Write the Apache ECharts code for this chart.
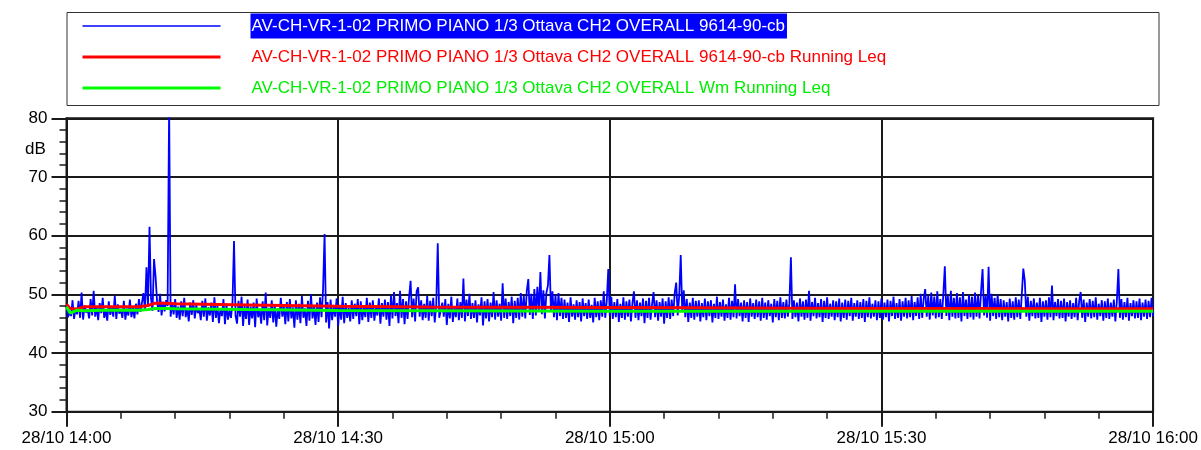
<!DOCTYPE html>
<html><head><meta charset="utf-8">
<script src="https://cdn.jsdelivr.net/npm/echarts@6/dist/echarts.min.js"></script>
<style>html,body{margin:0;padding:0;background:#fff}#c{width:1201px;height:450px}</style>
</head><body><div id="c"></div>
<script>
// Blue: level every 10 s from 14:00 (index i -> minute i/6), one row = 5 minutes
const levelValues = [
48.2,46.1,47.0,46.3,49.0,45.8,47.6,46.6,48.9,46.0,50.3,45.7,48.1,46.9,47.4,45.9,49.2,46.4,50.6,46.2,47.8,45.6,48.5,46.8,49.4,46.0,47.3,45.5,48.8,46.5,
47.9,46.2,49.8,45.8,48.3,46.7,47.5,46.0,48.9,45.7,47.6,46.4,49.1,46.1,47.8,45.9,48.4,46.6,49.2,47.0,48.6,50.2,47.4,54.6,48.1,61.5,49.3,47.2,56.0,53.1,
48.8,47.0,50.1,46.4,48.7,47.1,49.0,48.0,82.0,46.2,48.5,46.6,49.2,46.0,47.9,45.7,48.8,46.3,49.4,46.1,47.7,45.4,48.6,46.5,49.0,45.9,48.2,46.8,47.5,45.6,
48.9,46.2,49.3,45.5,47.8,46.4,48.6,45.3,49.5,46.0,48.1,45.1,47.6,46.3,49.2,44.9,48.4,45.7,47.3,46.0,48.7,59.1,46.4,45.0,48.9,46.2,49.6,44.6,48.0,45.8,
49.1,44.8,47.9,45.9,48.6,44.4,49.3,46.1,47.5,45.0,48.8,45.6,50.3,44.7,47.7,46.0,49.0,45.2,48.3,44.5,47.6,45.8,49.4,46.2,48.0,44.9,48.7,45.4,49.2,45.9,
47.8,44.3,49.0,45.7,48.4,45.1,49.7,46.0,47.6,44.6,48.9,45.5,50.0,45.9,47.9,44.8,48.6,45.3,49.5,46.1,50.8,60.3,45.2,48.7,44.2,49.1,45.6,48.0,46.2,49.3,
44.6,48.2,45.7,49.6,45.1,48.5,46.0,47.7,45.4,49.0,45.8,48.4,46.3,49.2,44.9,48.8,45.6,47.9,46.1,49.4,45.3,48.6,46.0,49.0,45.5,47.8,46.4,49.3,45.0,48.5,
46.2,49.1,45.7,48.7,44.6,49.8,45.9,50.4,46.3,48.5,45.1,50.6,46.0,49.2,44.9,48.8,45.8,49.5,52.3,46.1,49.3,45.4,50.5,51.2,46.2,49.0,45.6,48.4,46.0,49.7,
45.5,48.9,46.3,49.4,45.2,48.1,58.7,46.0,45.7,48.6,46.2,49.2,44.8,48.4,45.9,49.6,45.3,48.0,46.1,49.3,45.6,48.7,46.0,52.7,45.4,49.1,46.3,50.1,45.8,48.5,
46.0,49.0,45.2,48.3,46.4,49.5,44.7,48.8,45.9,49.2,45.4,48.6,46.1,50.4,45.7,49.0,46.2,48.4,45.5,51.9,46.0,49.3,45.8,48.7,46.3,49.6,45.1,48.9,46.0,49.4,
45.7,50.2,46.2,49.8,45.9,50.6,52.6,46.5,50.1,45.8,50.9,46.4,51.3,47.0,53.8,46.6,50.7,45.9,50.3,51.5,56.7,47.2,50.5,46.1,49.9,45.6,50.2,46.3,49.4,45.8,
49.1,46.0,48.6,45.3,49.5,46.2,48.3,45.7,49.0,46.1,48.7,45.4,49.3,46.3,48.5,45.8,49.1,46.0,48.2,45.2,49.4,46.1,48.8,45.6,49.0,46.2,50.5,46.0,48.9,54.3,
46.3,49.6,45.8,48.7,46.1,49.2,45.3,48.4,46.0,49.5,45.7,48.8,46.2,49.1,45.4,48.5,50.5,46.0,49.0,45.6,48.6,46.3,49.3,45.1,48.9,46.0,49.4,45.7,48.3,50.4,
46.1,49.0,45.5,48.7,46.2,49.3,45.0,48.8,46.0,49.5,45.8,49.1,46.3,50.2,52.0,46.4,49.8,56.7,47.0,50.7,46.1,49.2,45.3,48.6,46.0,49.4,45.7,48.9,46.2,49.0,
45.4,48.5,46.1,49.3,45.6,48.8,46.3,49.0,45.2,48.4,46.0,49.6,45.8,48.7,46.2,49.1,45.5,48.3,46.0,49.4,45.7,48.9,46.1,51.7,45.9,49.2,46.3,48.6,45.4,49.0,
46.0,48.7,45.3,49.3,46.2,48.5,45.8,49.1,46.1,48.8,45.5,49.4,46.0,48.6,45.7,49.0,46.3,48.4,45.2,49.2,46.1,48.9,45.6,49.5,46.0,48.7,45.9,49.1,46.2,48.5,
56.3,45.8,49.0,46.1,48.6,45.4,49.3,46.2,48.8,45.7,49.1,46.0,50.6,45.5,48.7,46.3,49.4,45.9,48.5,46.1,49.2,45.3,48.9,46.0,49.5,45.8,48.4,46.2,49.0,45.6,
48.8,46.1,49.3,45.4,48.6,46.0,49.1,45.7,48.9,46.3,49.4,45.5,48.5,46.2,49.0,45.8,48.7,46.0,49.2,45.3,48.9,46.1,49.5,45.9,48.4,46.2,49.0,45.6,48.8,46.0,
49.3,45.7,48.6,46.1,49.1,45.4,48.9,46.3,49.6,45.8,48.5,46.0,49.2,45.5,48.8,46.2,49.4,45.9,49.0,46.1,49.7,45.6,48.7,46.3,49.5,45.8,50.1,46.0,49.3,50.9,
46.2,49.8,45.7,50.3,46.4,49.6,45.9,50.5,46.1,49.2,45.8,50.0,54.8,46.3,49.7,45.6,50.6,46.2,49.4,45.9,50.2,46.0,49.5,45.4,50.4,46.3,49.1,45.8,49.9,46.1,
49.6,45.7,50.3,46.2,49.8,45.9,50.5,54.3,46.4,49.7,46.0,54.7,45.5,50.1,46.3,49.4,45.8,49.9,46.1,49.2,45.6,49.0,46.2,48.7,45.4,49.3,46.0,48.8,45.7,49.5,
46.1,49.1,45.8,50.0,54.4,52.3,46.2,49.6,45.5,48.9,46.3,49.3,45.9,48.6,46.0,49.4,45.3,48.8,46.2,49.0,45.7,49.5,46.1,51.5,45.6,48.7,46.3,49.2,45.9,48.9,
46.0,49.3,45.4,48.7,46.2,49.0,45.8,48.5,46.1,49.4,45.6,48.8,50.4,46.0,49.1,45.3,48.6,46.2,49.2,45.9,48.9,46.1,49.5,45.7,48.4,46.3,49.0,45.5,48.8,46.0,
49.3,45.8,48.6,46.2,49.1,45.4,48.9,54.3,46.0,49.2,45.7,48.7,46.1,49.4,45.5,48.5,46.3,49.0,45.9,48.8,46.0,49.3,45.6,48.6,46.2,49.1,45.8,48.9,46.1,49.4,
46.3
];
// Running Leq curves (minutes after 14:00)
const leqMinutes = [0,0.4,1.2,2,4,8,9,9.8,11,12,20,30,40,50,60,70,80,90,100,110,120];
const leqValues  = [48.3,47.6,47.5,47.9,47.9,47.9,48.1,48.5,48.5,48.4,48.2,47.95,47.85,47.8,47.75,47.7,47.65,47.6,47.6,47.55,47.55];
const wmValues   = [47.9,46.8,47.3,47.2,47.3,47.3,47.4,47.6,47.6,47.55,47.4,47.25,47.2,47.15,47.1,47.1,47.1,47.1,47.1,47.1,47.1];
const seriesNames = [
  'AV-CH-VR-1-02 PRIMO PIANO 1/3 Ottava CH2 OVERALL 9614-90-cb',
  'AV-CH-VR-1-02 PRIMO PIANO 1/3 Ottava CH2 OVERALL 9614-90-cb Running Leq',
  'AV-CH-VR-1-02 PRIMO PIANO 1/3 Ottava CH2 OVERALL Wm Running Leq'
];
const datePrefix = '28/10 ';
const startHour = 14;

const FONT = '"Liberation Sans", Arial, sans-serif';
const levelData = levelValues.map((v, i) => [i / 6, v]);
const leqData = leqMinutes.map((m, i) => [m, leqValues[i]]);
const wmData = leqMinutes.map((m, i) => [m, wmValues[i]]);

function fmtTime(v) {
  const h = startHour + Math.floor(v / 60);
  const m = Math.round(v % 60);
  return datePrefix + h + ':' + String(m).padStart(2, '0');
}
function richT(extra) {
  return Object.assign({fontSize: 17, fontFamily: FONT, height: 25, lineHeight: 25, padding: [0, 2, 0, 1]}, extra);
}

const chart = echarts.init(document.getElementById('c'), null, {renderer: 'canvas'});
chart.setOption({
  animation: false,
  backgroundColor: '#fff',
  textStyle: {fontFamily: FONT},
  grid: {left: 66.5, right: 41.5, top: 118.3, bottom: 38.3, show: true, borderColor: '#1a1a1a', borderWidth: 2, backgroundColor: 'transparent'},
  graphic: [
    {type: 'rect', shape: {x: 67, y: 12.5, width: 1092, height: 93}, style: {fill: 'none', stroke: '#333', lineWidth: 1}, z: 0},
    {type: 'text', left: 25, top: 141, style: {text: 'dB', font: '17px ' + FONT, fill: '#000'}}
  ],
  legend: {
    orient: 'vertical', left: 81, top: 13.5, padding: 0, itemWidth: 138, itemHeight: 14, itemGap: 6,
    selectedMode: false,
    itemStyle: {opacity: 0},
    formatter: name => '{p|}{t|' + name + '}',
    textStyle: {fontFamily: FONT, fontSize: 17, rich: {p: {width: 25}, t: richT({})}},
    data: [
      {name: seriesNames[0], itemStyle: {opacity: 0}, lineStyle: {width: 1.6, color: '#0000ff'}, textStyle: {rich: {p: {width: 25}, t: richT({color: '#fff', backgroundColor: '#0000ff'})}}},
      {name: seriesNames[1], itemStyle: {opacity: 0}, lineStyle: {width: 3, color: '#ff0000'}, textStyle: {rich: {p: {width: 25}, t: richT({color: '#ff0000'})}}},
      {name: seriesNames[2], itemStyle: {opacity: 0}, lineStyle: {width: 3, color: '#00ff00'}, textStyle: {rich: {p: {width: 25}, t: richT({color: '#00ee00'})}}}
    ]
  },
  xAxis: {
    type: 'value', min: 0, max: 120, interval: 30,
    axisLine: {show: true, lineStyle: {color: '#1a1a1a', width: 2}},
    axisTick: {show: true, length: 15, lineStyle: {color: '#1a1a1a', width: 2}},
    minorTick: {show: true, splitNumber: 5, length: 7, lineStyle: {color: '#1a1a1a', width: 1.5}},
    splitLine: {show: true, lineStyle: {color: '#1a1a1a', width: 2}},
    axisLabel: {formatter: fmtTime, color: '#000', fontSize: 17, fontFamily: FONT, margin: 18, showMinLabel: true, showMaxLabel: true}
  },
  yAxis: {
    type: 'value', min: 30, max: 80, interval: 10,
    axisLine: {show: true, lineStyle: {color: '#1a1a1a', width: 2}},
    axisTick: {show: true, length: 15, lineStyle: {color: '#1a1a1a', width: 2}},
    minorTick: {show: true, splitNumber: 5, length: 7, lineStyle: {color: '#1a1a1a', width: 1.5}},
    splitLine: {show: true, lineStyle: {color: '#1a1a1a', width: 2}},
    axisLabel: {color: '#000', fontSize: 17, fontFamily: FONT, margin: 19}
  },
  series: [
    {name: seriesNames[0], type: 'line', data: levelData, symbol: 'none', clip: true, lineStyle: {color: '#0000ff', width: 1.8}, itemStyle: {color: '#0000ff'}, z: 2},
    {name: seriesNames[1], type: 'line', data: leqData, symbol: 'none', clip: true, lineStyle: {color: '#ff0000', width: 3}, itemStyle: {color: '#ff0000'}, z: 3},
    {name: seriesNames[2], type: 'line', data: wmData, symbol: 'none', clip: true, lineStyle: {color: '#00ff00', width: 3}, itemStyle: {color: '#00ff00'}, z: 4}
  ]
});
</script></body></html>
